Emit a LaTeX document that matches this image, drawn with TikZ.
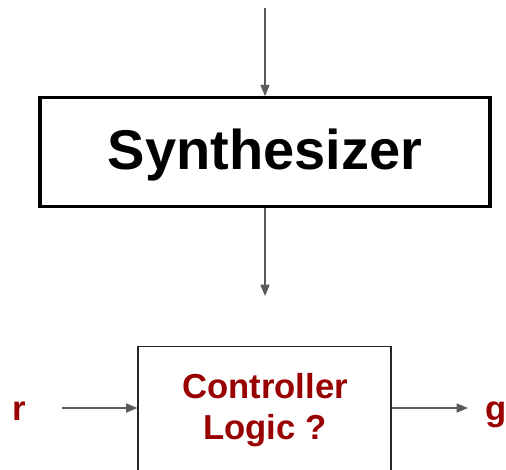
\documentclass[tikz,border=0pt]{standalone}
\usepackage{fontspec}
\setmainfont{Liberation Sans}
\usetikzlibrary{arrows.meta}
\definecolor{sigred}{HTML}{990000}
\definecolor{wiregray}{HTML}{5A5A5A}
\tikzset{
  wire/.style={draw=wiregray, line width=1.1pt, -{Triangle[length=8.5pt,width=6.8pt]}},
  sig/.style={text=sigred, font=\bfseries\fontsize{26}{31}\selectfont, inner sep=0pt}
}

\begin{document}
\begin{tikzpicture}[x=0.75pt, y=-0.75pt]
        \clip (0,0) rectangle (506,469);
        \node (synth) [draw, line width=2.3pt, minimum width=337.5pt, minimum height=81.5pt,
                text depth=4.5pt, font=\bfseries\fontsize{42}{50}\selectfont] at (265,152) {Synthesizer};
        \node (ctrl) [draw=black!85, line width=0.9pt, minimum width=189.75pt, minimum height=130pt,
                inner sep=0pt] at (264.5,433) {};
        \node (ctrltxt) [sig, align=center] at (265,410) {Controller\\Logic ?};
        \node (r) [sig, anchor=base] at (19,420) {r};
        \node (g) [sig, anchor=base] at (496,420) {g};
        \coordinate (top) at (265,8);
        \coordinate (mid) at (265,296);
        \coordinate (rin) at (62,408);
        \coordinate (gout) at (468,408);
        \draw[wire] (top) -- (synth.north);
        \draw[wire] (synth.south) -- (mid);
        \draw[wire] (rin) -- (rin -| ctrl.west);
        \draw[wire] (gout -| ctrl.east) -- (gout);
\end{tikzpicture}
\end{document}
